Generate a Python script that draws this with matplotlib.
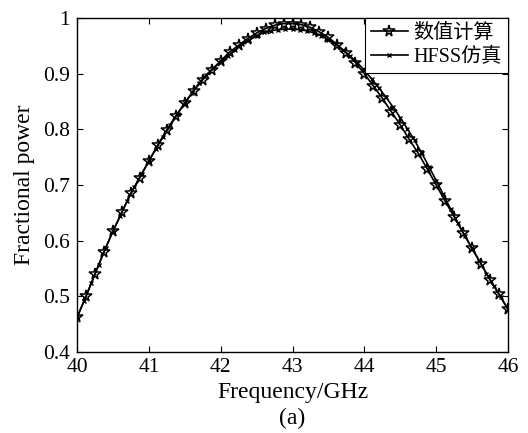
import numpy as np
import matplotlib
matplotlib.use("Agg")
import matplotlib.pyplot as plt

plt.rcParams['font.family'] = ['Liberation Serif', 'Noto Sans CJK SC', 'DejaVu Sans']
plt.rcParams['mathtext.fontset'] = 'stix'

# Numerical calculation (stars), step 0.125 GHz
freq_num = [40.000, 40.125, 40.250, 40.375, 40.500, 40.625, 40.750, 40.875,
            41.000, 41.125, 41.250, 41.375, 41.500, 41.625, 41.750, 41.875,
            42.000, 42.125, 42.250, 42.375, 42.500, 42.625, 42.750, 42.875,
            43.000, 43.125, 43.250, 43.375, 43.500, 43.625, 43.750, 43.875,
            44.000, 44.125, 44.250, 44.375, 44.500, 44.625, 44.750, 44.875,
            45.000, 45.125, 45.250, 45.375, 45.500, 45.625, 45.750, 45.875,
            46.000]
power_num = [0.462, 0.500, 0.540, 0.580, 0.617, 0.651, 0.685, 0.713,
             0.743, 0.772, 0.799, 0.824, 0.847, 0.869, 0.889, 0.907,
             0.923, 0.939, 0.951, 0.963, 0.973, 0.981, 0.987, 0.990,
             0.990, 0.988, 0.983, 0.975, 0.965, 0.952, 0.937, 0.920,
             0.900, 0.878, 0.856, 0.832, 0.808, 0.782, 0.757, 0.729,
             0.700, 0.671, 0.643, 0.614, 0.586, 0.558, 0.530, 0.504,
             0.477]

# HFSS simulation (small x markers), step 0.1 GHz
freq_hfss = [40.0, 40.1, 40.2, 40.3, 40.4, 40.5, 40.6, 40.7, 40.8, 40.9,
             41.0, 41.1, 41.2, 41.3, 41.4, 41.5, 41.6, 41.7, 41.8, 41.9,
             42.0, 42.1, 42.2, 42.3, 42.4, 42.5, 42.6, 42.7, 42.8, 42.9,
             43.0, 43.1, 43.2, 43.3, 43.4, 43.5, 43.6, 43.7, 43.8, 43.9,
             44.0, 44.1, 44.2, 44.3, 44.4, 44.5, 44.6, 44.7, 44.8, 44.9,
             45.0, 45.1, 45.2, 45.3, 45.4, 45.5, 45.6, 45.7, 45.8, 45.9,
             46.0]
power_hfss = [0.462, 0.492, 0.524, 0.556, 0.587, 0.617, 0.644, 0.672, 0.697, 0.720,
              0.743, 0.765, 0.787, 0.807, 0.828, 0.847, 0.866, 0.883, 0.898, 0.910,
              0.921, 0.932, 0.943, 0.953, 0.961, 0.968, 0.974, 0.977, 0.979, 0.980,
              0.980, 0.979, 0.977, 0.973, 0.968, 0.961, 0.953, 0.943, 0.932, 0.920,
              0.906, 0.891, 0.875, 0.858, 0.840, 0.821, 0.801, 0.780, 0.757, 0.733,
              0.708, 0.683, 0.657, 0.632, 0.609, 0.586, 0.564, 0.541, 0.519, 0.498,
              0.477]

x_ticks = [40, 41, 42, 43, 44, 45, 46]
y_ticks = [0.4, 0.5, 0.6, 0.7, 0.8, 0.9, 1.0]
y_ticklabels = ['0.4', '0.5', '0.6', '0.7', '0.8', '0.9', '1']
labels = ['数值计算', 'HFSS仿真']

fig = plt.figure(figsize=(5.28, 4.33), dpi=100)
L, R, B, T = 77 / 528, 508 / 528, 1 - 352 / 433, 1 - 18 / 433
ax = fig.add_axes([L, B, R - L, T - B])

ax.plot(freq_num, power_num, color='black', lw=1.2, marker='*', ms=8.5,
        mfc='none', mec='black', mew=1.1, label=labels[0])
ax.plot(freq_hfss, power_hfss, color='black', lw=1.2, marker='x', ms=3,
        mew=1.0, label=labels[1])

ax.set_xlim(40, 46)
ax.set_ylim(0.4, 1.0)
ax.set_xticks(x_ticks)
ax.set_xticklabels([str(t) for t in x_ticks])
ax.set_yticks(y_ticks)
ax.set_yticklabels(y_ticklabels)
ax.tick_params(direction='in', top=True, right=True, length=4, width=0.8,
               labelsize=15.5)
ax.tick_params(axis='x', pad=4)
ax.tick_params(axis='y', pad=5)
for s in ax.spines.values():
    s.set_linewidth(1.0)

ax.set_xlabel('Frequency/GHz', fontsize=17, labelpad=4)
ax.set_ylabel('Fractional power', fontsize=17, labelpad=6)
fig.text(0.5 * (L + R), 1 - 418 / 433, '(a)', ha='center', va='center', fontsize=17)

leg = ax.legend(loc='upper right', fontsize=14.5, frameon=True, fancybox=False,
                edgecolor='black', framealpha=1, borderaxespad=0, handlelength=1.8,
                borderpad=0.3, labelspacing=0.25, handletextpad=0.3)
leg.get_frame().set_linewidth(0.8)

fig.savefig('out.png', dpi=100)
